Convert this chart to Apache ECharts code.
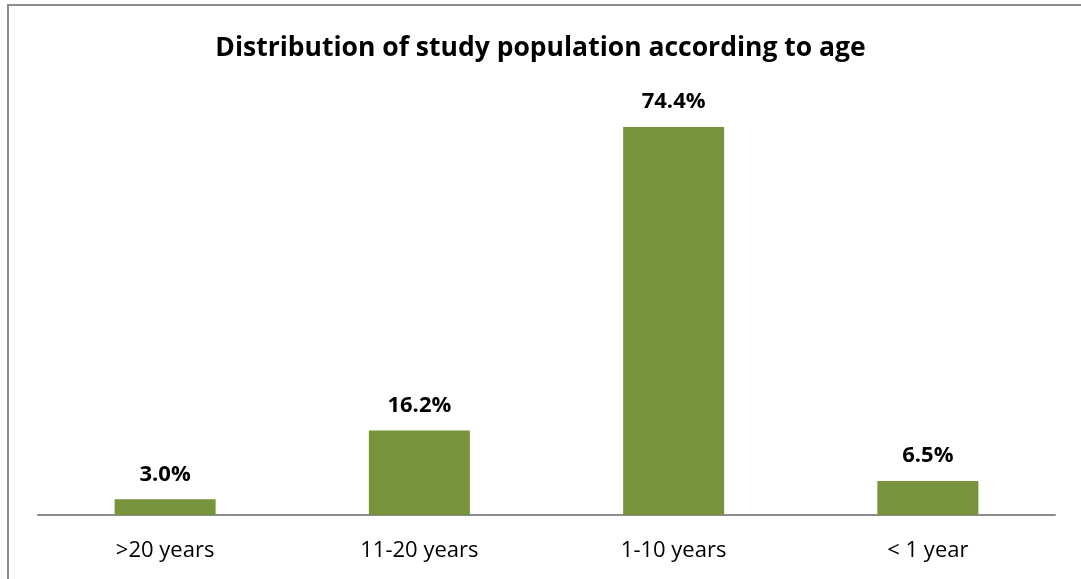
<!DOCTYPE html>
<html>
<head>
<meta charset="utf-8">
<script src="https://cdn.jsdelivr.net/npm/echarts@6/dist/echarts.min.js"></script>
<style>
  html, body { margin: 0; padding: 0; background: #fff; }
  #chart { width: 1081px; height: 579px; }
</style>
</head>
<body>
<div id="chart"></div>
<script>
// Age groups and share of the study population (%)
const categories = ['>20 years', '11-20 years', '1-10 years', '< 1 year'];
const shares = [3.0, 16.2, 74.4, 6.5];
const chartTitle = 'Distribution of study population according to age';

const FONT = '"Open Sans", "DejaVu Sans", sans-serif';

const chart = echarts.init(document.getElementById('chart'), null, { renderer: 'canvas' });
chart.setOption({
  backgroundColor: '#ffffff',
  animation: false,
  title: {
    text: chartTitle,
    left: 'center',
    top: 30,
    textStyle: { fontFamily: FONT, fontSize: 26.5, fontWeight: 'bold', color: '#000' }
  },
  graphic: [{
    type: 'rect',
    shape: { x: 8, y: 5, width: 1200, height: 700 },
    style: { fill: 'none', stroke: '#8c8c8c', lineWidth: 2 },
    silent: true
  }],
  grid: { left: 38, right: 26, top: 97.8, bottom: 64 },
  xAxis: {
    type: 'category',
    data: categories,
    axisLine: { lineStyle: { color: '#8c8c8c', width: 2 } },
    axisTick: { show: false },
    axisLabel: { fontFamily: FONT, fontSize: 22, color: '#000', margin: 25 }
  },
  yAxis: {
    type: 'value',
    min: 0,
    max: 80,
    show: false,
    splitLine: { show: false }
  },
  series: [{
    type: 'bar',
    data: shares,
    barWidth: 101,
    itemStyle: { color: '#77933c' },
    label: {
      show: true,
      position: 'top',
      distance: 14,
      formatter: p => p.value.toFixed(1) + '%',
      fontFamily: FONT,
      fontSize: 22,
      fontWeight: 'bold',
      color: '#000'
    }
  }]
});
</script>
</body>
</html>
